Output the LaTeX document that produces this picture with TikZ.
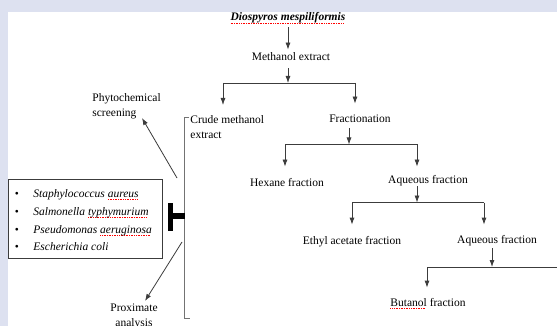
\documentclass[tikz,border=0pt]{standalone}
\usepackage{fontspec}
\setmainfont{Liberation Serif}
\usetikzlibrary{arrows.meta}
\definecolor{bgl}{RGB}{221,225,240}
\definecolor{lnc}{RGB}{60,60,60}
\newsavebox\splbox
\newcommand\spl[1]{\sbox\splbox{#1}\rlap{\lower2.4pt\hbox to \wd\splbox{\color{red}\leaders\hbox{\rule{1pt}{0.5pt}\kern0.7pt}\hfill}}\usebox\splbox}
\begin{document}
\begin{tikzpicture}[x=1pt,y=-1pt,line width=0.8pt,
  lbl/.style={inner sep=0pt,font=\fontsize{11.5}{14}\selectfont,text height=8pt,text depth=3pt},
  mlbl/.style={inner sep=0pt,font=\fontsize{11.5}{15.2}\selectfont},
  ar/.style={draw=lnc,-{Latex[length=7pt,width=5pt]}},
  ln/.style={draw=lnc},
  brk/.style={draw=black!55,line width=0.7pt}]
\useasboundingbox (0,0) rectangle (557,326);
\clip (0,0) rectangle (557,326);
\fill[bgl] (0,0) rectangle (557,326);
\fill[white] (8,12) rectangle (557,326);

% labels
\node[lbl,anchor=base,font=\fontsize{11.5}{14}\selectfont\bfseries\itshape] (dm) at (288,21) {\spl{Diospyros mespiliformis}};
\node[lbl,anchor=base] (me) at (291,61) {Methanol extract};
\node[mlbl,anchor=north west,align=left] (crude) at (190,115) {Crude methanol\\extract};
\node[lbl,anchor=base] (frac) at (360,123) {Fractionation};
\node[lbl,anchor=base] (hex) at (287,186) {Hexane fraction};
\node[lbl,anchor=base] (aq1) at (428,183) {Aqueous fraction};
\node[lbl,anchor=base] (eth) at (352,244) {Ethyl acetate fraction};
\node[lbl,anchor=base] (aq2) at (497,243) {Aqueous fraction};
\node[lbl,anchor=base] (but) at (428,306) {\spl{Butanol} fraction};
\node[mlbl,anchor=north west,align=left] (phy) at (92,93) {Phytochemical\\screening};
\node[mlbl,anchor=north,align=center] (prox) at (134,303) {Proximate\\analysis};

% organism box
\node[draw=lnc,line width=0.8pt,inner sep=0pt,minimum width=154pt,minimum height=79pt,anchor=north west] (box) at (8,179) {};
\node[lbl,anchor=base] (b1) at (17,197) {\textbullet};
\node[lbl,anchor=base] (b2) at (17,215) {\textbullet};
\node[lbl,anchor=base] (b3) at (17,233) {\textbullet};
\node[lbl,anchor=base] (b4) at (17,250) {\textbullet};
\node[lbl,anchor=base west,font=\fontsize{11.5}{14}\selectfont\itshape] (o1) at (33,197) {Staphylococcus \spl{aureus}};
\node[lbl,anchor=base west,font=\fontsize{11.5}{14}\selectfont\itshape] (o2) at (33,215) {Salmonella \spl{typhymurium}};
\node[lbl,anchor=base west,font=\fontsize{11.5}{14}\selectfont\itshape] (o3) at (33,233) {Pseudomonas \spl{aeruginosa}};
\node[lbl,anchor=base west,font=\fontsize{11.5}{14}\selectfont\itshape] (o4) at (33,250) {Escherichia coli};

% junction coordinates
\coordinate (j1) at (288,83);
\coordinate (j1l) at (223,83);
\coordinate (j1r) at (355,83);
\coordinate (j2) at (349,144.5);
\coordinate (j2l) at (285,144.5);
\coordinate (j2r) at (417,144.5);
\coordinate (j3) at (417,202.5);
\coordinate (j3l) at (352,202.5);
\coordinate (j3r) at (484,202.5);
\coordinate (j4) at (492,267);
\coordinate (j4l) at (427,267);
\coordinate (j4r) at (561,267);
\coordinate (t4r) at (561,289);

% main flow
\draw[ar,shorten <=3pt,shorten >=3pt] (dm.south) -- (dm.south |- me.north);
\draw[ar,shorten <=4pt] (me.south -| j1) -- (j1);
\draw[ln] (j1l) -- (j1r);
\draw[ar,shorten >=10pt] (j1l) -- (j1l |- crude.north);
\draw[ar,shorten >=11pt] (j1r) -- (j1r |- frac.north);

\draw[ar,shorten <=2pt] (frac.south -| j2) -- (j2);
\draw[ln] (j2l) -- (j2r);
\draw[ar,shorten >=11pt] (j2l) -- (j2l |- hex.north);
\draw[ar,shorten >=8pt] (j2r) -- (j2r |- aq1.north);

\draw[ar] (aq1.south -| j3) -- (j3);
\draw[ln] (j3l) -- (j3r);
\draw[ar,shorten >=11pt] (j3l) -- (j3l |- eth.north);
\draw[ar,shorten >=10pt] (j3r) -- (j3r |- aq2.north);

\draw[ar,shorten <=2pt] (aq2.south -| j4) -- (j4);
\draw[ln] (j4l) -- (j4r);
\draw[ar,shorten >=10pt] (j4l) -- (j4l |- but.north);
\draw[ar] (j4r) -- (t4r);

% bracket for crude extract
\coordinate (bt) at (184.5,117);
\coordinate (bb) at (184.5,318);
\draw[brk] (bt) ++(4.5,0) -- (bt) -- (bb) -- ++(5.5,0);

% side arrows
\coordinate (ps) at (177,178);
\coordinate (pt) at (142,118);
\draw[ar] (ps) -- (pt);
\coordinate (xs) at (182,242);
\coordinate (xt) at (145,301);
\draw[ar] (xs) -- (xt);

% inhibition symbol
\coordinate (tv) at (170,216);
\draw[line width=5pt] (170,203) -- (170,230.5);
\draw[line width=6pt] (tv) -- (bt |- tv);
\end{tikzpicture}
\end{document}
